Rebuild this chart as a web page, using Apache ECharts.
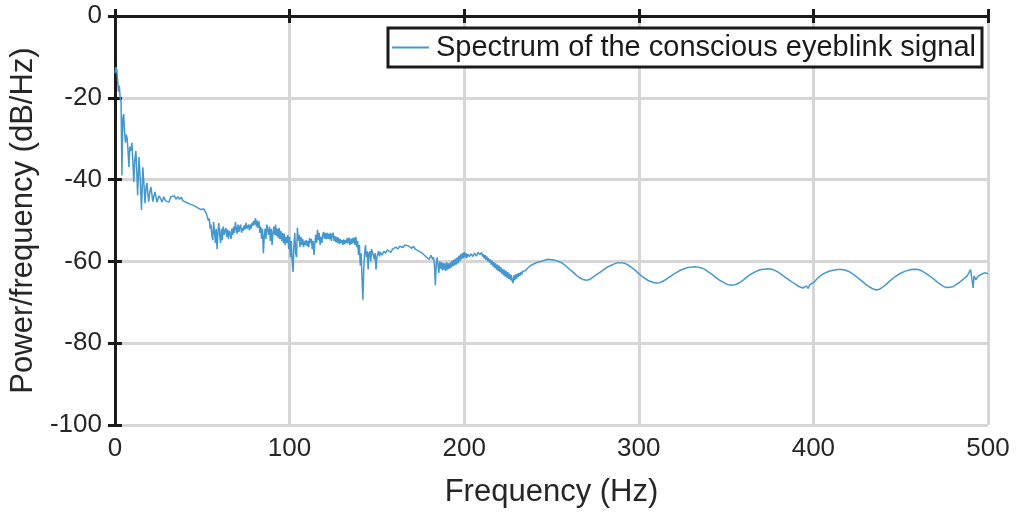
<!DOCTYPE html>
<html><head><meta charset="utf-8">
<script src="https://cdn.jsdelivr.net/npm/echarts@6/dist/echarts.min.js"></script>
<style>html,body{margin:0;padding:0;background:#fff}#c{width:1016px;height:514px}</style>
</head><body><div id="c"></div>
<script>
// [frequency (Hz), power (dB/Hz)]
const spectrumLow = [[0,-14],[0.5,-12.5],[1,-13],[1.5,-15.5],[2,-18.5],[2.5,-17],[3,-20],[3.5,-21],[4,-39],[4.5,-25],[5,-24],[5.5,-28],[6,-31],[6.5,-29],[7,-30],[7.5,-33],[8,-37],[8.5,-32],[9,-33],[9.7,-31],[10.3,-36],[10.8,-40.6],[11.4,-35],[12,-33],[12.5,-38],[13,-43.8],[13.8,-34.5],[14.5,-40],[15.2,-47.4],[16,-37],[16.6,-41],[17.2,-45.8],[17.8,-42],[18.3,-40.8],[19.3,-45.4],[20,-43],[20.6,-41.8],[21.7,-45.4],[22.3,-44],[23,-43],[24,-45.5],[24.5,-45],[25.2,-44],[26,-44.5],[27,-45.5],[28,-44.2],[29,-45.2],[30,-44.8],[31,-45.5],[32,-44.2],[33,-44.6],[34,-44],[35,-44.8],[36,-44.2],[37,-44.8],[38,-44.3],[39,-45.2],[40,-45],[41,-45.6],[42,-45.4],[43,-46],[44,-45.8],[45,-46.3],[46,-46.2],[47,-46.8],[48,-47],[49,-47.3],[50,-47.5],[51,-47.2]];
const spectrumMid = [[52,-48],[52.5,-48.5],[53,-48.7],[53.5,-50],[54,-49.5],[54.5,-52],[55,-51],[55.5,-53.5],[56,-54.8],[56.5,-50.4],[57,-52.5],[57.5,-55.5],[58,-52],[58.5,-57],[59,-53],[59.5,-50.6],[60,-53.5],[60.5,-55.5],[61,-52],[61.5,-54.8],[62,-51.5],[62.5,-53.5],[63,-52.5],[63.5,-51.8],[64,-54],[64.5,-52.2],[65,-54.5],[65.5,-52.5],[66,-53.2],[66.5,-54.5],[67,-52],[67.5,-53.5],[68,-51.5],[68.5,-53],[69,-50.4],[69.5,-52],[70,-53.2],[70.5,-51],[71,-52.8],[71.5,-51.5],[72,-51],[72.5,-53],[73,-51.8],[73.5,-52.5],[74,-51.2],[74.5,-52.2],[75,-50.6],[75.5,-52],[76,-51.8],[76.5,-51],[77,-52.4],[77.5,-51],[78,-52],[78.5,-50.5],[79,-51.3],[79.5,-50],[80,-51],[80.5,-49.4],[81,-51.5],[81.5,-50],[82,-51.8],[82.5,-50.2],[83,-53],[83.5,-51.5],[84,-54.5],[84.5,-52],[85,-58],[85.5,-54],[86,-52],[86.5,-54.5],[87,-51],[87.5,-50.6],[88,-53.5],[88.5,-51.5],[89,-55],[89.5,-52],[90,-56],[90.5,-53],[91,-51.5],[91.5,-53.5],[92,-51],[92.5,-53.8],[93,-52],[93.5,-54.2],[94,-51.8],[94.5,-54.5],[95,-52.5],[95.5,-55],[96,-53],[96.5,-55.5],[97,-53.2],[97.5,-56],[98,-54],[98.5,-55.5],[99,-53.5],[99.5,-57],[100,-54],[100.5,-59],[101,-55],[101.5,-60],[102,-62.6],[102.5,-56],[103,-53],[103.5,-58],[104,-59],[104.5,-51.8],[105,-55],[105.5,-53.5],[106,-56.5],[106.5,-54],[107,-56],[107.5,-54.5],[108,-56.5],[108.5,-55],[109,-56],[109.5,-54.8],[110,-56.3],[110.5,-55],[111,-56.5],[111.5,-54.3],[112,-55.5],[112.5,-54.5],[113,-57],[113.5,-55],[114,-58.4],[114.5,-55.5],[115,-53.5],[115.5,-55.5],[116,-52.3],[116.5,-54.8],[117,-53],[117.5,-56],[118,-54],[118.5,-55.5],[119,-53.5],[119.5,-52.8],[120,-54.5],[120.5,-53],[121,-54.5],[121.5,-53],[122,-54.5],[122.5,-53.2],[123,-54.6],[123.5,-53],[124,-55],[124.5,-53.5],[125,-53],[125.5,-55],[126,-53.8],[126.5,-55.3],[127,-54],[127.5,-55.5],[128,-54.2],[128.5,-55.8],[129,-54.5],[129.5,-55.5],[130,-54.8],[130.5,-56],[131,-54.6],[131.5,-55.8],[132,-54.8],[132.5,-55.5],[133,-54.3],[133.5,-55.6],[134,-54.2],[134.5,-56],[135,-54.5],[135.5,-55.8],[136,-54.3],[136.5,-55.5],[137,-54.2],[137.5,-56],[138,-54],[138.5,-56.5],[139,-55],[139.5,-58.4],[140,-56],[140.5,-61],[141,-58],[141.5,-64],[142,-69.4],[142.5,-62],[143,-58],[143.5,-56],[144,-59],[144.5,-57.5],[145,-62],[145.5,-58],[146,-57.5],[146.5,-60],[147,-57],[147.5,-56.7],[148,-58.5],[148.5,-59.5],[149,-58],[149.5,-62],[150,-59],[150.5,-58.2],[151,-57.5],[151.5,-58.8],[152,-57.7],[153,-58.5],[154,-57.5],[155,-58],[156,-57.2],[157,-57.2],[158,-57.8],[159,-57],[160,-57.4],[161,-56.5],[162,-57],[163,-56.3],[164,-56],[165,-56.6],[166,-56],[167,-56.4],[168,-56.2],[169,-56.5],[170,-56.8],[171,-56.3],[172,-57],[173,-56.8],[174,-57.5],[175,-57.2],[176,-58],[177,-57.8],[178,-58.8],[179,-58.4],[180,-59.5],[181,-58.5],[182,-59.5],[182.5,-59],[183,-61],[183.5,-65.8],[184,-60.5],[184.5,-59],[185,-61],[185.5,-62.8],[186,-60],[186.5,-61.8],[187,-60.2],[187.5,-62.2],[188,-60.4],[188.5,-62],[189,-60.5],[189.5,-62.3],[190,-60.2],[190.5,-62],[191,-60.5],[191.5,-61.8],[192,-60.3],[192.5,-61.5],[193,-59.8],[193.5,-61.2],[194,-59.6],[194.5,-61],[195,-59.3],[195.5,-60.8],[196,-59],[196.5,-60.5],[197,-58.6],[197.5,-60],[198,-58.3],[198.5,-59.5],[199,-58],[199.5,-59.2],[200,-57.7],[200.5,-59],[201,-58],[201.5,-59.2],[202,-58.2],[203,-58.8],[204,-58.2],[205,-58.8],[206,-58],[207,-58.7],[208,-57.8],[209,-58.3],[210,-57.8],[210.5,-58.8],[211,-58.2],[211.5,-59.3],[212,-58.5],[212.5,-59.6],[213,-58.8],[213.5,-60],[214,-59.2],[214.5,-60.3],[215,-59.5],[215.5,-60.8],[216,-59.8],[216.5,-61.2],[217,-60.2],[217.5,-61.6],[218,-60.5],[218.5,-62],[219,-60.8],[219.5,-62.3],[220,-61],[220.5,-62.6],[221,-61.4],[221.5,-63],[222,-61.8],[222.5,-63.4],[223,-62],[223.5,-63.7],[224,-62.3],[224.5,-64],[225,-62.6],[225.5,-64.3],[226,-63],[226.5,-64.6],[227,-63.3],[227.5,-64.8],[228,-65.3],[228.5,-63.4],[229,-64.6],[229.5,-63.2],[230,-64.3],[230.5,-63],[231,-63.8],[231.5,-62.8],[232,-63.5],[232.5,-62.6],[233,-63.2],[233.5,-62.4],[234,-62.8],[235,-62.3],[236,-61.8],[237,-61.5],[238,-61]];
const spectrumHigh = [[240,-60.6],[242,-60.2],[244,-60],[246,-59.7],[248,-59.5],[250,-59.6],[252,-59.7],[254,-60],[256,-60.4],[258,-61],[260,-61.8],[262,-62.5],[264,-63.3],[266,-64],[268,-64.4],[270,-64.6],[272,-64.4],[274,-63.8],[276,-63.2],[278,-62.6],[280,-62],[282,-61.4],[284,-61],[286,-60.6],[288,-60.3],[290,-60.3],[292,-60.5],[294,-60.9],[296,-61.5],[298,-62.2],[300,-63],[302,-63.7],[304,-64.3],[306,-64.8],[308,-65.1],[310,-65.3],[312,-65.2],[314,-64.8],[316,-64.3],[318,-63.7],[320,-63.1],[322,-62.6],[324,-62.1],[326,-61.8],[328,-61.5],[330,-61.4],[332,-61.3],[334,-61.4],[336,-61.6],[338,-62],[340,-62.6],[342,-63.2],[344,-63.9],[346,-64.5],[348,-65],[350,-65.5],[352,-65.8],[354,-65.8],[356,-65.6],[358,-65.1],[360,-64.5],[362,-63.8],[364,-63.2],[366,-62.7],[368,-62.3],[370,-62],[372,-61.9],[374,-61.8],[376,-61.9],[378,-62.2],[380,-62.7],[382,-63.3],[384,-63.9],[386,-64.5],[388,-65.1],[390,-65.7],[392,-66.2],[394,-66.5],[395,-66.8],[396,-66],[397,-66.6],[398,-65.7],[400,-65.2],[402,-64.3],[404,-63.5],[406,-63],[408,-62.6],[410,-62.3],[412,-62.1],[414,-62],[416,-62],[418,-62.1],[420,-62.4],[422,-62.9],[424,-63.5],[426,-64.2],[428,-64.9],[430,-65.6],[432,-66.2],[434,-66.7],[436,-67],[437,-67.1],[438,-66.8],[440,-66.2],[442,-65.5],[444,-64.7],[446,-64],[448,-63.4],[450,-62.9],[452,-62.5],[454,-62.2],[456,-62],[458,-61.9],[460,-62],[462,-62.3],[464,-62.8],[466,-63.4],[468,-64],[470,-64.7],[472,-65.4],[474,-66],[476,-66.4],[477,-66.7],[478,-66.3],[479,-66.6],[480,-66.2],[482,-65.6],[484,-65],[486,-64.3],[488,-63.6],[489,-63.2],[490,-62],[491,-61.8],[491.5,-66.5],[492,-63.5],[493,-64.5],[494,-63.8],[496,-63.2],[498,-62.8],[500,-63]];
const xTicks = [0,100,200,300,400,500];
const yTicks = [-100,-80,-60,-40,-20,0];
const seriesName = 'Spectrum of the conscious eyeblink signal';
const xName = 'Frequency (Hz)';
const yName = 'Power/frequency (dB/Hz)';

const chart = echarts.init(document.getElementById('c'));
const font = 'Liberation Sans, Arial, sans-serif';
const pts = spectrumLow.concat(spectrumMid, spectrumHigh);
const dark = '#1a1a1a';
const axLine = {show:true, lineStyle:{color:dark, width:3}};
const tick = {show:true, inside:true, length:7, lineStyle:{color:dark, width:3}};
chart.setOption({
  animation:false,
  backgroundColor:'#fff',
  grid:{left:114, right:28, top:16, bottom:89, show:false},
  legend:{
    right:34, top:28, data:[seriesName], backgroundColor:'#fff', borderColor:dark, borderWidth:3,
    padding:[5,6,5,4], itemWidth:37, itemHeight:2, itemGap:0,
    icon:'rect',
    textStyle:{fontFamily:font, fontSize:29, color:dark, padding:[0,0,0,2]}
  },
  xAxis:[{
    type:'value', min:xTicks[0], max:xTicks[xTicks.length-1], interval:xTicks[1]-xTicks[0],
    name:xName, nameLocation:'middle', nameGap:52,
    nameTextStyle:{fontFamily:font, fontSize:31, color:'#262626'},
    axisLine:axLine, axisTick:tick,
    axisLabel:{fontFamily:font, fontSize:26, color:'#262626', margin:11},
    splitLine:{show:true, lineStyle:{color:'#d6d6d6', width:3}}
  },{
    type:'value', position:'top', min:xTicks[0], max:xTicks[xTicks.length-1], interval:xTicks[1]-xTicks[0],
    axisLine:axLine, axisTick:tick, axisLabel:{show:false}, splitLine:{show:false}
  }],
  yAxis:[{
    type:'value', min:yTicks[0], max:yTicks[yTicks.length-1], interval:yTicks[1]-yTicks[0],
    name:yName, nameLocation:'middle', nameGap:72, nameRotate:90,
    nameTextStyle:{fontFamily:font, fontSize:31, color:'#262626'},
    axisLine:axLine, axisTick:tick,
    axisLabel:{fontFamily:font, fontSize:26, color:'#262626', margin:13},
    splitLine:{show:true, lineStyle:{color:'#d6d6d6', width:3}}
  },{
    type:'value', position:'right', min:yTicks[0], max:yTicks[yTicks.length-1], interval:yTicks[1]-yTicks[0],
    axisLine:axLine, axisTick:tick, axisLabel:{show:false}, splitLine:{show:false}
  }],
  series:[{
    name:seriesName, type:'line', data:pts, showSymbol:false, symbol:'none',
    lineStyle:{color:'#4598cf', width:1.5}, itemStyle:{color:'#4598cf'}, z:5
  }]
});
</script></body></html>
